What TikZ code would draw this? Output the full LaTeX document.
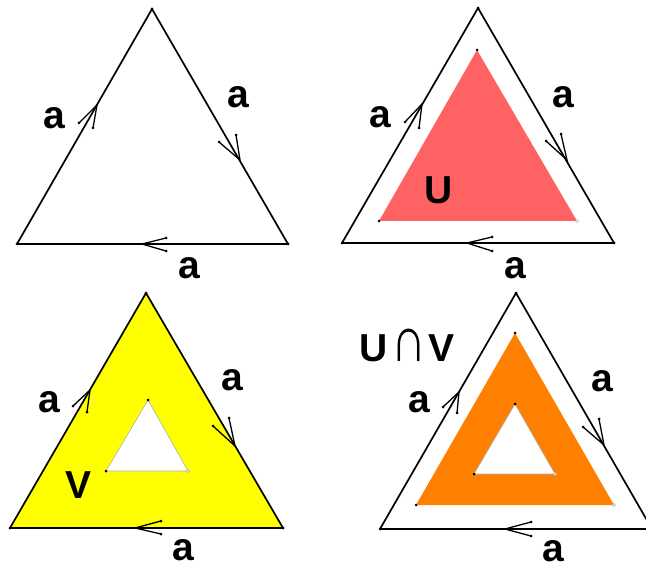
\documentclass[tikz,border=0pt]{standalone}
\usepackage{fontspec}
\usepackage{graphicx}
\setmainfont{Liberation Sans}
\begin{document}
\begin{tikzpicture}[x=1pt,y=-1pt,
  edge/.style={line width=1.7pt,line cap=round,line join=round},
  barb/.style={line width=1.3pt,line cap=round},
  lab/.style={font=\fontsize{39}{39}\selectfont\bfseries,inner sep=0pt},
  vdot/.style={fill=black},
  odot/.style={fill=white,draw=gray!70,line width=0.5pt},
  holeline/.style={draw=gray!60,line width=0.6pt}]
\definecolor{ured}{RGB}{255,98,98}
\definecolor{vyel}{RGB}{255,255,0}
\definecolor{uvor}{RGB}{255,128,0}
\clip (0,0) rectangle (646,567);
\fill[white] (0,0) rectangle (646,567);

% ---------- Panel 1 ----------
\coordinate (A1) at (152,9); \coordinate (B1) at (17,244); \coordinate (C1) at (288,244);
\draw[edge] (A1) -- (B1) -- (C1) -- cycle;
\coordinate (L1t) at (97,105); \coordinate (L1a) at (79,123); \coordinate (L1b) at (93,128);
\coordinate (R1t) at (240,160); \coordinate (R1a) at (219,142); \coordinate (R1b) at (236,135);
\coordinate (D1t) at (142,244); \coordinate (D1a) at (166,238); \coordinate (D1b) at (166,251);
\draw[barb] (L1a) -- (L1t) -- (L1b);
\draw[barb] (R1a) -- (R1t) -- (R1b);
\draw[barb] (D1a) -- (D1t) -- (D1b);
\foreach \p in {A1,B1,C1,L1a,L1b,R1a,R1b,D1a,D1b} \fill[vdot] (\p) circle (1.5pt);
\node[lab] (la1) at (54,118) {a};
\node[lab] (ra1) at (238,97) {a};
\node[lab] (ba1) at (189,268) {a};

% ---------- Panel 2 ----------
\coordinate (A2) at (478,8); \coordinate (B2) at (342,243); \coordinate (C2) at (614,243);
\coordinate (P2) at (477,50); \coordinate (Q2) at (379,221); \coordinate (S2) at (577,221);
\fill[ured] (P2) -- (Q2) -- (S2) -- cycle;
\draw[edge] (A2) -- (B2) -- (C2) -- cycle;
\coordinate (L2t) at (422,104); \coordinate (L2a) at (405,122); \coordinate (L2b) at (419,128);
\coordinate (R2t) at (567,160); \coordinate (R2a) at (546,141); \coordinate (R2b) at (561,134);
\coordinate (D2t) at (467,243); \coordinate (D2a) at (492,237); \coordinate (D2b) at (492,251);
\draw[barb] (L2a) -- (L2t) -- (L2b);
\draw[barb] (R2a) -- (R2t) -- (R2b);
\draw[barb] (D2a) -- (D2t) -- (D2b);
\foreach \p in {A2,B2,C2,P2,Q2,L2a,L2b,R2a,R2b,D2a,D2b} \fill[vdot] (\p) circle (1.5pt);
\draw[odot] (S2) circle (1.6pt);
\node[lab] (la2) at (380,117) {a};
\node[lab] (ra2) at (563,97) {a};
\node[lab] (ba2) at (515,268) {a};
\node[lab] (u2) at (439,190) {U};

% ---------- Panel 3 ----------
\coordinate (A3) at (146,293); \coordinate (B3) at (10,528); \coordinate (C3) at (283,528);
\coordinate (H3a) at (148,400); \coordinate (H3b) at (106,471); \coordinate (H3c) at (188,471);
\fill[vyel,even odd rule] (A3) -- (B3) -- (C3) -- cycle (H3a) -- (H3b) -- (H3c) -- cycle;
\draw[holeline] (H3a) -- (H3b) -- (H3c) -- cycle;
\draw[edge] (A3) -- (B3) -- (C3) -- cycle;
\coordinate (L3t) at (90,390); \coordinate (L3a) at (73,406); \coordinate (L3b) at (87,412);
\coordinate (R3t) at (235,446); \coordinate (R3a) at (213,426); \coordinate (R3b) at (229,418);
\coordinate (D3t) at (135,528); \coordinate (D3a) at (161,521); \coordinate (D3b) at (161,534);
\draw[barb] (L3a) -- (L3t) -- (L3b);
\draw[barb] (R3a) -- (R3t) -- (R3b);
\draw[barb] (D3a) -- (D3t) -- (D3b);
\foreach \p in {A3,B3,C3,H3a,H3b,L3a,L3b,R3a,R3b,D3a,D3b} \fill[vdot] (\p) circle (1.5pt);
\draw[odot] (H3c) circle (1.6pt);
\node[lab] (la3) at (49,402) {a};
\node[lab] (ra3) at (232,380) {a};
\node[lab] (ba3) at (183,550) {a};
\node[lab] (v3) at (79,485) {V};

% ---------- Panel 4 ----------
\coordinate (A4) at (516,293); \coordinate (B4) at (380,529); \coordinate (C4) at (652,529);
\coordinate (P4) at (515,333); \coordinate (Q4) at (416,505); \coordinate (S4) at (614,505);
\coordinate (H4a) at (515,404); \coordinate (H4b) at (474,474); \coordinate (H4c) at (555,474);
\fill[uvor,even odd rule] (P4) -- (Q4) -- (S4) -- cycle (H4a) -- (H4b) -- (H4c) -- cycle;
\draw[holeline] (H4a) -- (H4b) -- (H4c) -- cycle;
\draw[edge] (A4) -- (B4) -- (C4) -- cycle;
\coordinate (L4t) at (459,392); \coordinate (L4a) at (443,407); \coordinate (L4b) at (457,413);
\coordinate (R4t) at (604,445); \coordinate (R4a) at (583,427); \coordinate (R4b) at (599,419);
\coordinate (D4t) at (505,529); \coordinate (D4a) at (531,522); \coordinate (D4b) at (531,536);
\draw[barb] (L4a) -- (L4t) -- (L4b);
\draw[barb] (R4a) -- (R4t) -- (R4b);
\draw[barb] (D4a) -- (D4t) -- (D4b);
\foreach \p in {A4,B4,P4,Q4,H4a,H4b,L4a,L4b,R4a,R4b,D4a,D4b} \fill[vdot] (\p) circle (1.5pt);
\draw[odot] (S4) circle (1.6pt);
\draw[odot] (H4c) circle (1.6pt);
\node[lab] (uv4) at (407,345) {U\hspace{3pt}{\mdseries\scalebox{1.25}[1.65]{∩}}\hspace{2pt}V};
\node[lab] (la4) at (419,402) {a};
\node[lab] (ra4) at (602,381) {a};
\node[lab] (ba4) at (553,551) {a};
\end{tikzpicture}
\end{document}
